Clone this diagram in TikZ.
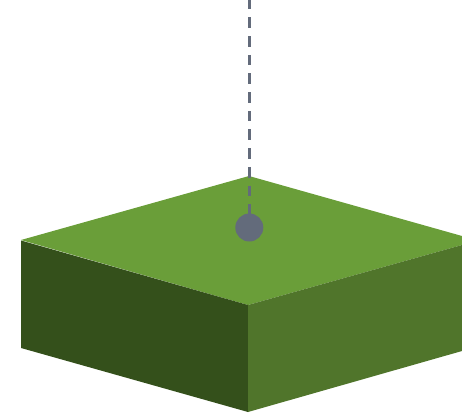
\documentclass[tikz,border=0pt]{standalone}
\definecolor{topgreen}{HTML}{6A9E39}
\definecolor{leftgreen}{HTML}{34501B}
\definecolor{rightgreen}{HTML}{50752B}
\definecolor{pin}{HTML}{636B7B}
\tikzset{
  face/.style={line width=0pt},
  pindot/.style={circle,fill=pin,minimum size=28pt,inner sep=0pt,line width=0pt},
  pinline/.style={draw=pin,line width=3pt,dash pattern=on 10.67pt off 8pt,dash phase=1.2pt}
}
\begin{document}
\begin{tikzpicture}[x=1pt,y=-1pt]
\useasboundingbox (0,0) rectangle (462,417);
\fill[topgreen,face] (21,240) -- (249,176) -- (462,236) -- (462,245) -- (248,305) -- cycle;
\fill[leftgreen,face] (21,240.5) -- (248,305) -- (248,412) -- (21,348) -- cycle;
\fill[rightgreen,face] (248,305) -- (462,245) -- (462,351) -- (248,412) -- cycle;
\node[pindot] (dot) at (249.3,227.5) {};
\coordinate (free) at (249.3,0);
\draw[pinline] (free) -- (dot.north);
\end{tikzpicture}
\end{document}
